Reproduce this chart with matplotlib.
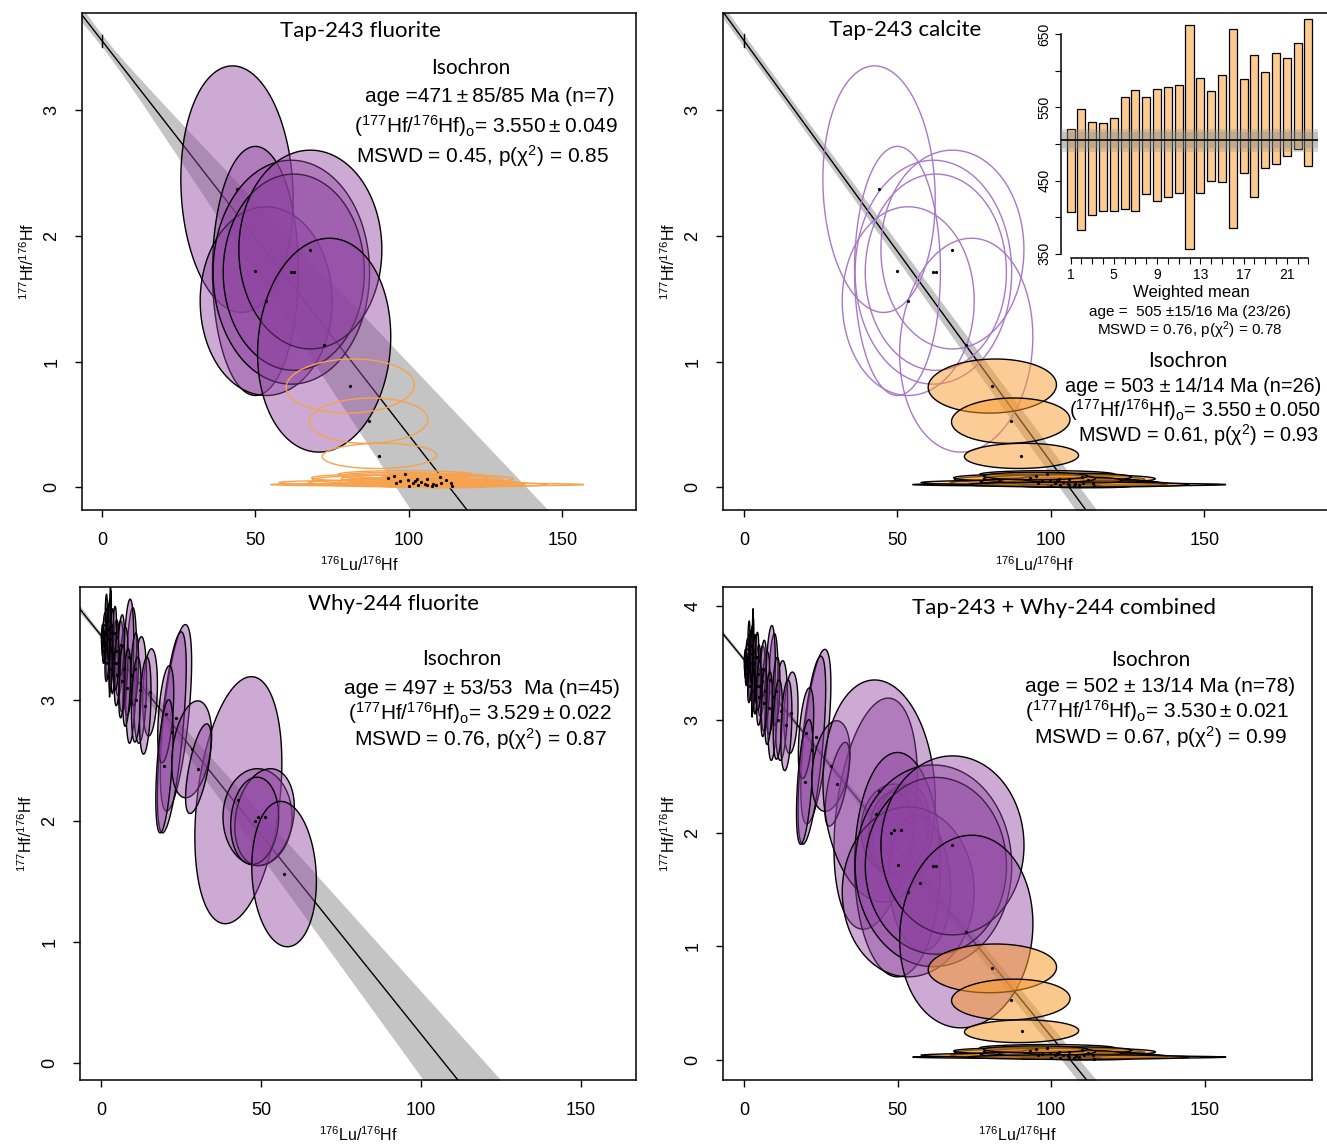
import numpy as np
import matplotlib
matplotlib.use("Agg")
import matplotlib.pyplot as plt
from matplotlib.patches import Polygon

W, H = 1327, 1146
STAT_FONT = ["Liberation Sans", "DejaVu Sans"]
TITLE_FONT = ["Lato", "Open Sans", "DejaVu Sans"]
plt.rcParams.update({
    "font.family": STAT_FONT,
    "mathtext.fontset": "custom",
    "mathtext.rm": "Liberation Sans",
    "mathtext.default": "regular",
    "axes.linewidth": 1.1,
})

PURPLE = "#8E44A0"; ORANGE = "#F99B2E"; PURPLE_LINE = "#A878C8"
ORANGE_LINE = "#F6A24E"; BAND = "#C4C4C4"
TS = "\u2009"   # thin space around the plus-minus sign

# ---------------------------------------------------------------------------
# data: error ellipses (centre x, centre y, half-width, half-height, rho)
# ---------------------------------------------------------------------------

# Tap-243 fluorite (n=7)
tapf_x = [44.0, 50.0, 53.5, 61.7, 62.5, 67.9, 72.4]
tapf_y = [2.37, 1.72, 1.48, 1.71, 1.71, 1.89, 1.13]
tapf_sx = [18.3, 14.0, 21.5, 25.5, 23.0, 23.3, 21.7]
tapf_sy = [0.98, 0.99, 0.75, 0.89, 0.78, 0.79, 0.85]
tapf_rho = [-0.08, 0.0, 0.0, 0.0, 0.0, 0.0, 0.08]

# Tap-243 calcite (n=26)
cal_x = [80.9, 86.9, 90.4, 106.0, 99.6, 98.8, 93.3, 101.2, 95.7, 101.9, 103.0,
         105.4, 106.0, 110.2, 110.6, 113.6, 114.0, 104.0, 108.0, 97.0, 100.0,
         112.0, 102.5, 107.5, 95.0, 109.0]
cal_y = [0.805, 0.53, 0.25, 0.022, 0.062, 0.103, 0.076, 0.038, 0.038, 0.053,
         0.018, 0.029, 0.068, 0.082, 0.038, 0.038, 0.009, 0.045, 0.030, 0.050,
         0.012, 0.055, 0.070, 0.010, 0.090, 0.022]
cal_sx = [20.9, 19.3, 18.6, 51.0, 31.0, 22.0, 25.0, 34.0, 38.0, 20.0, 15.0,
          18.0, 28.0, 16.0, 24.0, 20.0, 12.0, 27.0, 30.0, 14.0, 10.0, 11.0,
          12.0, 9.0, 17.0, 36.0]
cal_sy = [0.215, 0.18, 0.10, 0.012, 0.035, 0.030, 0.030, 0.025, 0.020, 0.030,
          0.015, 0.020, 0.035, 0.030, 0.025, 0.020, 0.012, 0.030, 0.025, 0.025,
          0.010, 0.025, 0.030, 0.012, 0.030, 0.020]
cal_rho = [0.05, 0.05, 0.05] + [0.0] * 23

# Why-244 fluorite (n=45)
why_x = [42.9, 48.9, 51.1, 48.0, 57.2, 23.4, 22.1, 20.2, 19.8, 28.3, 30.4,
         15.3, 12.2, 9.4, 8.6, 5.7, 7.0, 10.5, 6.3, 8.0, 11.0, 13.8, 6.5,
         1.0, 1.5, 2.0, 2.8, 2.3, 3.2, 3.8, 1.2, 0.6, 2.9, 4.5, 3.5, 1.8,
         0.8, 2.2, 5.0, 4.2, 3.0, 1.6, 2.5, 0.4, 4.8]
why_y = [2.17, 2.03, 2.03, 2.00, 1.56, 2.85, 2.73, 2.88, 2.45, 2.59, 2.43,
         3.06, 3.08, 3.20, 3.35, 3.34, 3.25, 3.25, 3.45, 3.10, 3.00, 2.95, 3.15,
         3.55, 3.45, 3.50, 3.50, 3.35, 3.40, 3.30, 3.62, 3.48, 3.60, 3.40, 3.55,
         3.30, 3.40, 3.65, 3.20, 3.55, 3.25, 3.75, 3.58, 3.52, 3.30]
why_sx = [13.6, 10.8, 9.3, 7.5, 10.1, 4.9, 4.5, 2.5, 2.7, 6.25, 4.0,
          2.3, 2.0, 1.7, 1.6, 1.3, 1.4, 1.2, 1.0, 1.2, 1.5, 1.8, 1.0,
          0.6, 0.7, 0.5, 0.25, 0.8, 0.6, 0.7, 0.5, 0.4, 0.3, 0.9, 0.5, 0.6,
          0.35, 0.4, 0.9, 0.6, 0.5, 0.3, 0.45, 0.3, 0.8]
why_sy = [1.02, 0.40, 0.40, 0.36, 0.60, 0.77, 0.83, 0.40, 0.55, 0.40, 0.37,
          0.36, 0.44, 0.56, 0.48, 0.31, 0.35, 0.30, 0.25, 0.32, 0.35, 0.40, 0.30,
          0.12, 0.15, 0.20, 0.48, 0.18, 0.22, 0.25, 0.10, 0.12, 0.30, 0.26, 0.20,
          0.15, 0.10, 0.14, 0.25, 0.22, 0.18, 0.12, 0.25, 0.10, 0.22]
why_rho = [0.30, 0.0, 0.2, 0.1, -0.1, 0.6, 0.65, 0.45, 0.5, 0.3, 0.65,
           0.2, 0.2, 0.3, 0.3, 0.3, 0.4, 0.3, 0.3, 0.4, 0.3, 0.3, 0.4,
           0.3, 0.3, 0.4, 0.6, 0.3, 0.4, 0.4, 0.2, 0.2, 0.5, 0.4, 0.3, 0.3,
           0.2, 0.3, 0.3, 0.3, 0.4, 0.3, 0.5, 0.2, 0.4]

# weighted mean inset (calcite single ages, Ma)
wm_idx = list(range(1, 24))
wm_hi = [520.8, 547.8, 529.5, 528.1, 535.9, 563.9, 574.0, 563.9, 575.8, 578.5,
         580.4, 663.3, 590.0, 573.0, 593.7, 657.8, 588.6, 622.1, 598.2, 624.3,
         617.9, 638.1, 671.5]
wm_lo = [406.3, 382.0, 402.6, 407.7, 408.1, 410.4, 408.6, 431.5, 422.3, 427.8,
         432.4, 356.8, 433.3, 449.4, 448.4, 385.7, 459.9, 426.9, 467.2, 472.7,
         484.2, 493.3, 470.0]
wm_mean = 505.5
wm_band_outer = (489.5, 521.0)
wm_band_inner = (495.0, 516.0)

# isochron fits: intercept, its error, age, age error (Ma)
fits = {
    "tl": (3.550, 0.049, 471.0, 85.0),
    "tr": (3.550, 0.050, 503.0, 14.0),
    "bl": (3.529, 0.022, 497.0, 53.0),
    "br": (3.530, 0.021, 502.0, 13.5),
}
LAMBDA = 1.867e-5   # 176Lu decay constant per Ma

# ---------------------------------------------------------------------------

fig = plt.figure(figsize=(W / 100, H / 100), dpi=100)


def add_axes_px(l, t, r, b, **kw):
    return fig.add_axes([l / W, 1 - b / H, (r - l) / W, (b - t) / H], **kw)


def ftext(x, y, s, size=15, family=None, **kw):
    fig.text(x / W, 1 - y / H, s, fontsize=size, ha="center", va="center",
             family=family or STAT_FONT, **kw)


def style(ax, xlim, ylim, yticks):
    ax.set_xlim(*xlim)
    ax.set_ylim(*ylim)
    ax.set_xticks([0, 50, 100, 150])
    ax.set_yticks(yticks)
    ax.tick_params(direction="out", length=5, width=1, labelsize=13, pad=10.5)
    for lab in ax.get_yticklabels():
        lab.set_rotation(90)
        lab.set_va("center")
    ax.set_xlabel("$^{176}$Lu/$^{176}$Hf", fontsize=11.5, labelpad=5)
    ax.set_ylabel("$^{177}$Hf/$^{176}$Hf", fontsize=11.5, labelpad=5)


def isochron(ax, key, xlim):
    a, sa, t, st = fits[key]
    g = np.exp(LAMBDA * t) - 1
    b = -a * g
    sb = a * LAMBDA * np.exp(LAMBDA * t) * st
    xx = np.linspace(xlim[0] - 5, xlim[1] + 5, 400)
    yy = a + b * xx
    w = np.sqrt(sa ** 2 + (sb * xx) ** 2)
    ax.fill_between(xx, yy - w, yy + w, color=BAND, lw=0, zorder=1)
    ax.plot(xx, yy, color="black", lw=1.0, zorder=2)
    ax.plot([0, 0], [a - sa, a + sa], color="black", lw=1.0, zorder=2)


def ellipses(ax, xs, ys, sxs, sys, rhos, face=None, edge="black", lw=1.0,
             alpha=0.45, z=3):
    t = np.linspace(0, 2 * np.pi, 120)
    for x0, y0, sx, sy, r in zip(xs, ys, sxs, sys, rhos):
        ex = x0 + sx * np.cos(t)
        ey = y0 + sy * (r * np.cos(t) + np.sqrt(1 - r * r) * np.sin(t))
        fc = matplotlib.colors.to_rgba(face, alpha) if face else "none"
        ax.add_patch(Polygon(np.column_stack([ex, ey]), closed=True,
                             facecolor=fc, edgecolor=edge, lw=lw, zorder=z))
    ax.plot(xs, ys, "o", ms=1.3, color="black", zorder=z + 1)


# --- top left: Tap-243 fluorite --------------------------------------------
xl, yl = (-6.5, 174.0), (-0.18, 3.77)
ax = add_axes_px(82, 13, 636, 510)
isochron(ax, "tl", xl)
ellipses(ax, tapf_x, tapf_y, tapf_sx, tapf_sy, tapf_rho, face=PURPLE)
ellipses(ax, cal_x, cal_y, cal_sx, cal_sy, cal_rho, edge=ORANGE_LINE, lw=1.0)
style(ax, xl, yl, [0, 1, 2, 3])

# --- top right: Tap-243 calcite --------------------------------------------
xl, yl = (-6.84, 195.8), (-0.18, 3.77)
ax = add_axes_px(723, 13, 1345, 510)
isochron(ax, "tr", xl)
ellipses(ax, tapf_x, tapf_y, tapf_sx, tapf_sy, tapf_rho, edge=PURPLE_LINE,
         lw=1.0)
ellipses(ax, cal_x, cal_y, cal_sx, cal_sy, cal_rho, face=ORANGE, alpha=0.5)
style(ax, xl, yl, [0, 1, 2, 3])

# weighted-mean inset
axi = add_axes_px(1061, 9.5, 1318, 258)
axi.set_facecolor("none")
axi.bar(wm_idx, np.array(wm_hi) - np.array(wm_lo), bottom=wm_lo, width=0.74,
        color="#FDCB8F", edgecolor="black", lw=0.9, zorder=2)
axi.axhspan(*wm_band_outer, color="#8a8a8a", alpha=0.3, lw=0, zorder=3)
axi.axhspan(*wm_band_inner, color="#8a8a8a", alpha=0.3, lw=0, zorder=3)
axi.axhline(wm_mean, color="black", lw=1.2, zorder=4)
axi.set_xlim(0.12, 23.88)
axi.set_ylim(344, 684)
for s in ("top", "right"):
    axi.spines[s].set_visible(False)
axi.spines["left"].set_bounds(350, 650)
axi.spines["bottom"].set_bounds(1, 23)
axi.set_yticks(range(350, 651, 50))
axi.set_yticklabels(["350", "", "450", "", "550", "", "650"])
axi.set_xticks(wm_idx)
axi.set_xticklabels([str(i) if (i - 1) % 4 == 0 else "" for i in wm_idx])
axi.tick_params(direction="out", length=4, labelsize=10, pad=3)
for lab in axi.get_yticklabels():
    lab.set_rotation(90)
    lab.set_va("center")
ftext(1191, 292, "Weighted mean", size=12)
ftext(1190, 312, "age =  505 ±15/16 Ma (23/26)", size=11)
ftext(1190, 330, "MSWD = 0.76, p(χ$^2$) = 0.78", size=11)

# --- bottom left: Why-244 fluorite -----------------------------------------
xl, yl = (-6.6, 167.2), (-0.14, 3.93)
ax = add_axes_px(80, 587, 636, 1080)
isochron(ax, "bl", xl)
ellipses(ax, why_x, why_y, why_sx, why_sy, why_rho, face=PURPLE)
style(ax, xl, yl, [0, 1, 2, 3])

# --- bottom right: combined -------------------------------------------------
xl, yl = (-6.84, 185.0), (-0.18, 4.17)
ax = add_axes_px(723, 587, 1312, 1080)
isochron(ax, "br", xl)
ellipses(ax, why_x, why_y, why_sx, why_sy, why_rho, face=PURPLE)
ellipses(ax, tapf_x, tapf_y, tapf_sx, tapf_sy, tapf_rho, face=PURPLE)
ellipses(ax, cal_x, cal_y, cal_sx, cal_sy, cal_rho, face=ORANGE, alpha=0.55)
style(ax, xl, yl, [0, 1, 2, 3, 4])

# --- titles and isochron statistics ----------------------------------------
HF = "($^{177}$Hf/$^{176}$Hf)$_o$= "
PM = TS + "±" + TS
ftext(360, 31, "Tap-243 fluorite", size=16, family=TITLE_FONT)
ftext(471, 68, "Isochron", size=15, family=TITLE_FONT)
ftext(490, 96, "age =471" + PM + "85/85 Ma (n=7)")
ftext(486, 126, HF + "3.550" + PM + "0.049")
ftext(483, 156, "MSWD = 0.45, p(χ$^2$) = 0.85")

ftext(905, 30, "Tap-243 calcite", size=16, family=TITLE_FONT)
ftext(1188, 361, "Isochron", size=15, family=TITLE_FONT)
ftext(1193, 387, "age = 503 ±" + TS + "14/14 Ma (n=26)", size=14.3)
ftext(1195, 410, HF + "3.550" + PM + "0.050", size=14.3)
ftext(1198, 435, "MSWD = 0.61, p(χ$^2$) = 0.93", size=14.3)

ftext(393, 604, "Why-244 fluorite", size=16, family=TITLE_FONT)
ftext(462, 659, "Isochron", size=15, family=TITLE_FONT)
ftext(482, 688, "age = 497 ± 53/53  Ma (n=45)")
ftext(480, 713, HF + "3.529" + PM + "0.022")
ftext(480, 739, "MSWD = 0.76, p(χ$^2$) = 0.87")

ftext(1064, 608, "Tap-243 + Why-244 combined", size=16, family=TITLE_FONT)
ftext(1151, 660, "Isochron", size=15, family=TITLE_FONT)
ftext(1160, 686, "age = 502 ± 13/14 Ma (n=78)")
ftext(1157, 711, HF + "3.530" + PM + "0.021")
ftext(1160, 737, "MSWD = 0.67, p(χ$^2$) = 0.99")

fig.savefig("out.png", dpi=100)
